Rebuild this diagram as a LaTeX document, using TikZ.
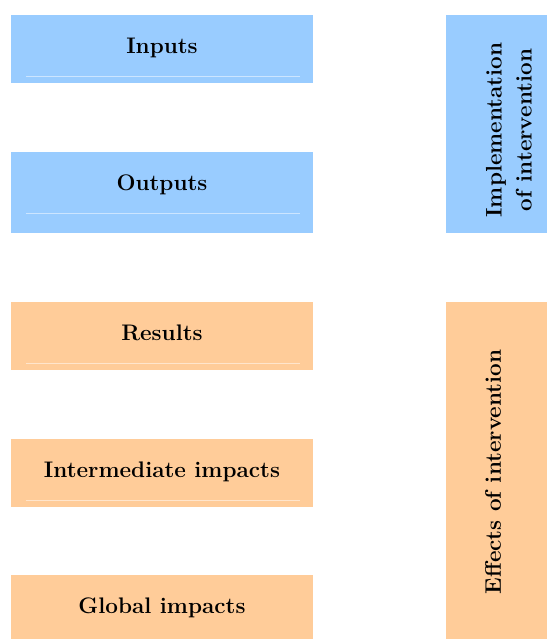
\documentclass[tikz,border=0pt]{standalone}
\usepackage{fontspec}
\definecolor{bluebox}{HTML}{99CCFF}
\definecolor{orangebox}{HTML}{FFCC99}
\tikzset{
  box/.style={inner sep=0pt, anchor=base, font=\fontsize{22.5}{26}\selectfont\bfseries},
  sidebox/.style={inner sep=0pt, font=\fontsize{22.5}{30}\selectfont\bfseries, rotate=90, align=center},
  faint/.style={draw=white, opacity=0.5, line width=0.8pt}
}
\begin{document}
\begin{tikzpicture}[x=1pt,y=1pt]
\useasboundingbox (0,0) rectangle (547,639);
% left boxes (y flipped: ytikz = 639 - y)
\fill[bluebox] (11,639-15) rectangle (313,639-83);
\draw[faint] (26,639-76) -- (300,639-76);
\node[box] (inputs) at (162,639-54) {Inputs};
\fill[bluebox] (11,639-152) rectangle (313,639-233);
\draw[faint] (26,639-213) -- (300,639-213);
\node[box] (outputs) at (162,639-191) {Outputs};
\fill[orangebox] (11,639-302) rectangle (313,639-370);
\draw[faint] (26,639-363) -- (300,639-363);
\node[box] (results) at (162,639-341) {Results};
\fill[orangebox] (11,639-439) rectangle (313,639-507);
\draw[faint] (26,639-500) -- (300,639-500);
\node[box] (inter) at (162,639-478) {Intermediate impacts};
\fill[orangebox] (11,639-575) rectangle (313,639-639);
\node[box] (global) at (162,639-614) {Global impacts};
% right boxes
\fill[bluebox] (446,639-15) rectangle (547,639-233);
\node[sidebox] (impl) at (509,639-130) {Implementation\\of intervention};
\fill[orangebox] (446,639-302) rectangle (547,639-639);
\node[sidebox] (effects) at (493,639-472) {Effects of intervention};
\end{tikzpicture}
\end{document}
